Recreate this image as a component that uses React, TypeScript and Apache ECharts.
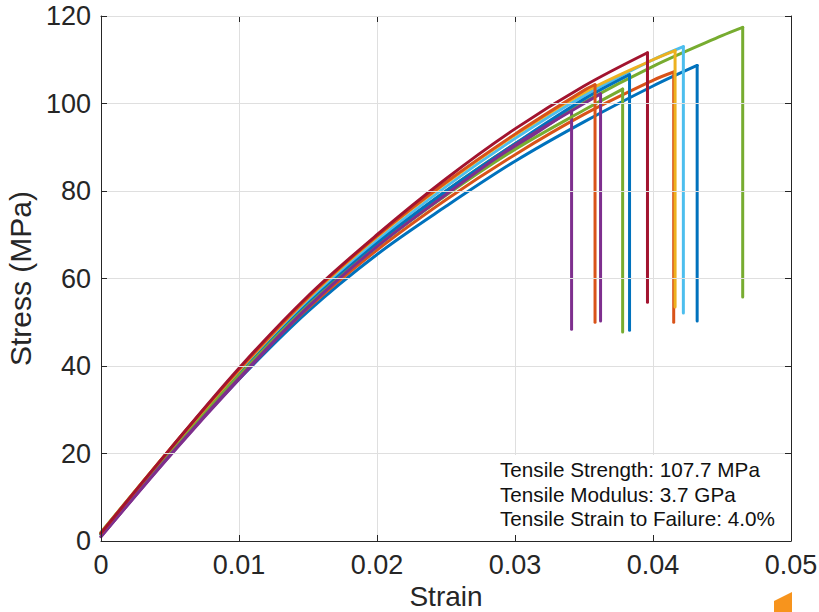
import React, { useEffect, useRef } from "react";
import * as echarts from "echarts";

const xTicks = [0, 0.01, 0.02, 0.03, 0.04, 0.05];
const yTicks = [0, 20, 40, 60, 80, 100, 120];

const specimenNames = [
  "Blue A", "Orange A", "Purple A", "Green A", "Light blue", "Blue B",
  "Green B", "Purple B", "Yellow A", "Orange B", "Dark red",
];
const specimenColors = [
  "#0072BD", "#D95319", "#7E2F8E", "#77AC30", "#4DBEEE", "#0072BD",
  "#77AC30", "#7E2F8E", "#EDB120", "#D95319", "#A2142F",
];

// strain, stress pairs, up to the failure point
const blueA = [[0, 1.5], [0.005, 20], [0.01, 37], [0.015, 52.5], [0.02, 65.5], [0.025, 76.5], [0.03, 86.8], [0.035, 95.8], [0.04, 104], [0.0432, 108.7]];
const orangeA = [[0, 1.6], [0.005, 20.3], [0.01, 37.5], [0.015, 53.2], [0.02, 66.5], [0.025, 78], [0.03, 88.3], [0.035, 97.5], [0.04, 105.3], [0.0415, 107.2]];
const purpleA = [[0, 1.0], [0.005, 19.5], [0.01, 37], [0.015, 53.5], [0.02, 67.5], [0.025, 79.5], [0.03, 90], [0.0341, 98.6]];
const greenA = [[0, 2.0], [0.005, 20.8], [0.01, 38.3], [0.015, 54.3], [0.02, 68], [0.025, 80], [0.03, 90.8], [0.035, 100.3], [0.04, 108.5], [0.045, 115.5], [0.0465, 117.4]];
const lightBlue = [[0, 1.8], [0.005, 20.8], [0.01, 38.5], [0.015, 54.8], [0.02, 68.7], [0.025, 81], [0.03, 92], [0.035, 101.8], [0.04, 110], [0.0422, 113.0]];
const blueB = [[0, 1.5], [0.005, 20.3], [0.01, 38], [0.015, 54.2], [0.02, 68], [0.025, 80], [0.03, 90.8], [0.035, 101], [0.0383, 106.6]];
const greenB = [[0, 1.5], [0.005, 20.2], [0.01, 37.8], [0.015, 53.8], [0.02, 67.3], [0.025, 79], [0.03, 89.5], [0.035, 98.5], [0.0378, 103.3]];
const purpleB = [[0, 1.0], [0.005, 19.6], [0.01, 37.2], [0.015, 53.5], [0.02, 67.3], [0.025, 79.2], [0.03, 90.5], [0.035, 100], [0.0362, 102.2]];
const yellowA = [[0, 1.9], [0.005, 21], [0.01, 39], [0.015, 55.5], [0.02, 69.5], [0.025, 81.8], [0.03, 92.8], [0.035, 102.5], [0.04, 110], [0.0416, 112.1]];
const orangeB = [[0, 1.8], [0.005, 21], [0.01, 39.2], [0.015, 55.7], [0.02, 69.7], [0.025, 82], [0.03, 93], [0.035, 103], [0.0358, 104.3]];
const darkRed = [[0, 1.8], [0.005, 21], [0.01, 39.5], [0.015, 56], [0.02, 70], [0.025, 82.8], [0.03, 94.2], [0.035, 104], [0.0396, 111.6]];

const specimens = [blueA, orangeA, purpleA, greenA, lightBlue, blueB, greenB, purpleB, yellowA, orangeB, darkRed];
// stress right after the failure drop (MPa), same order
const failureDropStress = [50.3, 50, 48.4, 55.8, 52.1, 48.2, 47.8, 50.3, 53.5, 50, 54.6];

const summaryLines = [
  "Tensile Strength: 107.7 MPa",
  "Tensile Modulus: 3.7 GPa",
  "Tensile Strain to Failure: 4.0%",
];

const FONT = '"Liberation Sans", Arial, Helvetica, sans-serif';
const AXIS_COLOR = "#262626";

export default function App() {
  const ref = useRef<HTMLDivElement>(null);
  useEffect(() => {
    if (!ref.current) return;
    const chart = echarts.init(ref.current, undefined, { renderer: "svg" });
    const xMin = xTicks[0];
    const xMax = xTicks[xTicks.length - 1];
    const yMin = yTicks[0];
    const yMax = yTicks[yTicks.length - 1];
    const tickCommon = { show: true, inside: true, length: 6, lineStyle: { color: AXIS_COLOR, width: 1 } };
    const series: any[] = [];
    specimens.forEach((d, i) => {
      const last = d[d.length - 1];
      series.push({
        name: specimenNames[i],
        type: "line",
        data: d,
        showSymbol: false,
        symbol: "none",
        smooth: 0.35,
        z: 2,
        lineStyle: { color: specimenColors[i], width: 3, join: "round", cap: "round" },
        itemStyle: { color: specimenColors[i] },
      });
      series.push({
        name: specimenNames[i] + " failure",
        type: "line",
        data: [last, [last[0], failureDropStress[i]]],
        showSymbol: false,
        symbol: "none",
        z: 2,
        lineStyle: { color: specimenColors[i], width: 3, join: "round", cap: "round" },
        itemStyle: { color: specimenColors[i] },
      });
    });
    chart.setOption({
      animation: false,
      backgroundColor: "#ffffff",
      grid: { left: 101, top: 16, right: 28, bottom: 71, containLabel: false, outerBoundsMode: "none" },
      xAxis: [
        {
          type: "value",
          position: "bottom",
          min: xMin,
          max: xMax,
          interval: 0.01,
          z: 3,
          name: "Strain",
          nameLocation: "middle",
          nameGap: 33,
          nameTextStyle: { fontFamily: FONT, fontSize: 28, lineHeight: 28, color: AXIS_COLOR },
          axisLine: { show: true, onZero: false, lineStyle: { color: AXIS_COLOR, width: 1 } },
          axisTick: tickCommon,
          axisLabel: {
            fontFamily: FONT,
            fontSize: 27,
            color: AXIS_COLOR,
            margin: 10,
            formatter: (v: number) => (v === 0 ? "0" : String(Math.round(v * 100) / 100)),
          },
          splitLine: { show: false },
        },
        {
          type: "value",
          position: "top",
          min: xMin,
          max: xMax,
          interval: 0.01,
          z: 0,
          axisLine: { show: true, onZero: false, lineStyle: { color: AXIS_COLOR, width: 1 } },
          axisTick: tickCommon,
          axisLabel: { show: false },
          splitLine: { show: true, lineStyle: { color: "#dfdfdf", width: 1 } },
        },
      ],
      yAxis: [
        {
          type: "value",
          position: "left",
          min: yMin,
          max: yMax,
          interval: 20,
          z: 3,
          name: "Stress (MPa)",
          nameLocation: "middle",
          nameGap: 61,
          nameTextStyle: { fontFamily: FONT, fontSize: 30, color: AXIS_COLOR },
          axisLine: { show: true, onZero: false, lineStyle: { color: AXIS_COLOR, width: 1 } },
          axisTick: tickCommon,
          axisLabel: { fontFamily: FONT, fontSize: 27, color: AXIS_COLOR, margin: 10 },
          splitLine: { show: true, lineStyle: { color: "#dfdfdf", width: 1 } },
        },
        {
          type: "value",
          position: "right",
          min: yMin,
          max: yMax,
          interval: 20,
          z: 3,
          axisLine: { show: true, onZero: false, lineStyle: { color: AXIS_COLOR, width: 1 } },
          axisTick: tickCommon,
          axisLabel: { show: false },
          splitLine: { show: false },
        },
      ],
      series,
      graphic: [
        {
          type: "rect",
          z: 1,
          shape: { x: 490, y: 455, width: 300, height: 85 },
          style: { fill: "#ffffff" },
        },
        ...summaryLines.map((t, i) => ({
          type: "text",
          z: 4,
          x: 500,
          y: 459 + i * 24.5,
          style: { text: t, fill: "#111111", font: `20.7px ${FONT}` },
        })),
        {
          type: "polygon",
          z: 4,
          shape: { points: [[774, 601], [792, 592], [792, 612], [774, 612]] },
          style: { fill: "#F7941D" },
        },
      ],
    });
    return () => chart.dispose();
  }, []);
  return (
    <div
      ref={ref}
      style={{ position: "fixed", left: 0, top: 0, width: 819, height: 612 }}
    />
  );
}
